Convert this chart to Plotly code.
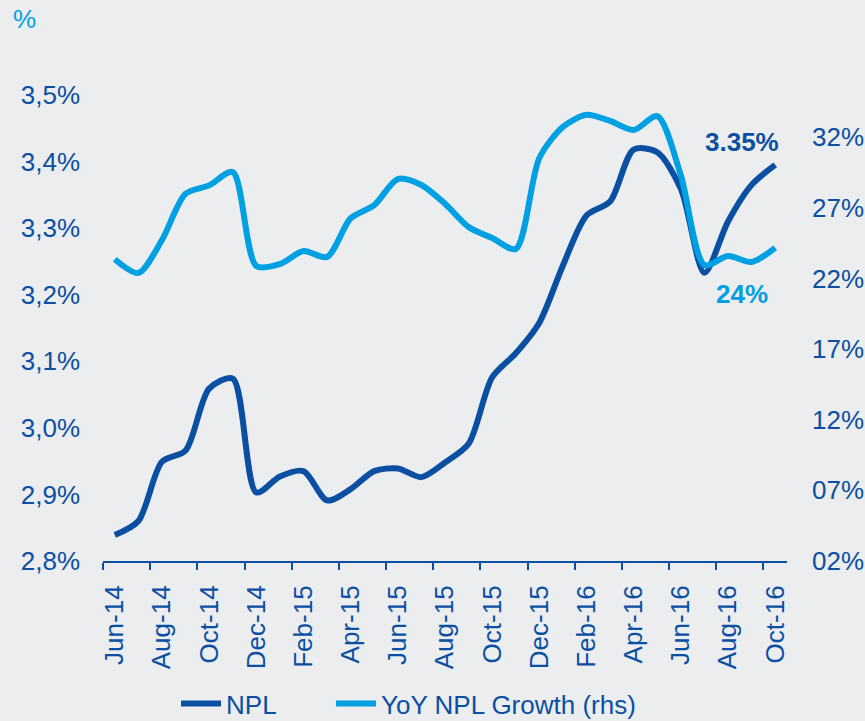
import plotly.graph_objects as go

# Monthly data, Jun-14 .. Oct-16
months = ["Jun-14", "Jul-14", "Aug-14", "Sep-14", "Oct-14", "Nov-14", "Dec-14",
          "Jan-15", "Feb-15", "Mar-15", "Apr-15", "May-15", "Jun-15", "Jul-15",
          "Aug-15", "Sep-15", "Oct-15", "Nov-15", "Dec-15", "Jan-16", "Feb-16",
          "Mar-16", "Apr-16", "May-16", "Jun-16", "Jul-16", "Aug-16", "Sep-16",
          "Oct-16"]
npl = [2.839, 2.86, 2.949, 2.966, 3.059, 3.074, 2.903, 2.927, 2.935, 2.891,
       2.908, 2.935, 2.939, 2.926, 2.948, 2.976, 3.076, 3.112, 3.158, 3.244,
       3.319, 3.340, 3.418, 3.414, 3.359, 3.233, 3.310, 3.365, 3.395]
yoy = [23.37, 22.40, 24.73, 28.0, 28.6, 29.55, 22.89, 23.03, 23.95, 23.53,
       26.27, 27.2, 29.05, 28.63, 27.3, 25.65, 24.87, 24.1, 30.54, 32.74,
       33.6, 33.16, 32.52, 33.5, 29.3, 22.96, 23.6, 23.18, 24.17]

left_ticks = [2.8, 2.9, 3.0, 3.1, 3.2, 3.3, 3.4, 3.5]
left_text = ["2,8%", "2,9%", "3,0%", "3,1%", "3,2%", "3,3%", "3,4%", "3,5%"]
right_ticks = [2, 7, 12, 17, 22, 27, 32]
right_text = ["02%", "07%", "12%", "17%", "22%", "27%", "32%"]

dark = "#0B4FA3"
light = "#00A0E3"
bg = "#ECEDEF"
font = "Liberation Sans, Arial, sans-serif"

x = list(range(len(months)))

fig = go.Figure()
fig.add_trace(go.Scatter(x=x, y=npl, name="NPL", mode="lines", legend="legend",
                         line=dict(color=dark, width=6, shape="spline", smoothing=0.8)))
fig.add_trace(go.Scatter(x=x, y=yoy, name="YoY NPL Growth (rhs)", mode="lines",
                         yaxis="y2", legend="legend2",
                         line=dict(color=light, width=6, shape="spline", smoothing=0.8)))

# value labels and the "%" unit at the top left
fig.add_annotation(x=26.6, y=3.43, xref="x", yref="y", text="<b>3.35%</b>",
                   showarrow=False, font=dict(color=dark, size=26, family=font))
fig.add_annotation(x=26.6, y=20.9, xref="x", yref="y2", text="<b>24%</b>",
                   showarrow=False, font=dict(color=light, size=26, family=font))
fig.add_annotation(x=-0.135, y=1.163, xref="paper", yref="paper", xanchor="left",
                   yanchor="middle", text="%", showarrow=False,
                   font=dict(color=light, size=26, family=font))

leg = dict(orientation="h", xref="container", yref="container",
           xanchor="left", y=0.024, yanchor="middle",
           font=dict(size=26, color=dark), itemwidth=40)

fig.update_layout(
    width=865, height=721,
    margin=dict(l=103, r=78, t=95, b=160),
    paper_bgcolor=bg, plot_bgcolor=bg,
    font=dict(family=font, color=dark, size=24),
    showlegend=True,
    legend=dict(leg, x=0.2035),
    legend2=dict(leg, x=0.3827),
    xaxis=dict(range=[-0.5, 28.5], tickvals=x[::2], ticktext=months[::2],
               tickangle=-90, ticks="", showgrid=False, zeroline=False,
               showline=True, linecolor=dark, linewidth=2, automargin=False,
               ticklabelstandoff=12, tickfont=dict(size=26, color=dark),
               minor=dict(tick0=-0.5, dtick=2, ticks="outside", ticklen=7,
                          tickcolor=dark, tickwidth=2, showgrid=False)),
    yaxis=dict(range=[2.8, 3.5], tickvals=left_ticks, ticktext=left_text,
               showgrid=False, zeroline=False, showline=False, automargin=False,
               ticklabelstandoff=22, tickfont=dict(size=26, color=dark)),
    yaxis2=dict(range=[2, 35], tickvals=right_ticks, ticktext=right_text,
                overlaying="y", side="right", showgrid=False, zeroline=False,
                showline=False, automargin=False, ticklabelstandoff=24,
                tickfont=dict(size=26, color=dark)),
)

fig.write_html("out.html", config={"displayModeBar": False},
               post_script="document.body.style.margin='0';")
